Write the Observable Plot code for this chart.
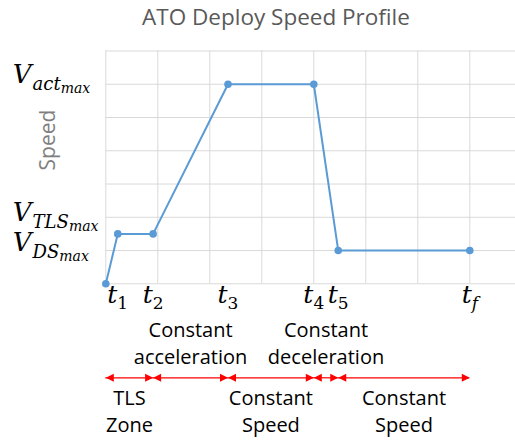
<!DOCTYPE html>
<html><head><meta charset="utf-8">
<script src="https://cdn.jsdelivr.net/npm/d3@7"></script>
<script src="https://cdn.jsdelivr.net/npm/@observablehq/plot@0.6"></script>
<style>
html,body{margin:0;padding:0;background:#fff;}
#wrap{position:relative;width:515px;height:440px;overflow:hidden;background:#fff;}
#wrap svg{position:absolute;left:0;top:0;}
#title{position:absolute;left:37px;right:0;top:1px;text-align:center;font-family:"Open Sans";font-size:22.5px;color:#595959;z-index:2;white-space:nowrap;}
#ytitle{position:absolute;left:47px;top:140px;transform:translate(-50%,-50%) rotate(-90deg);font-family:"Open Sans";font-size:21px;color:#7f7f7f;white-space:nowrap;z-index:2;}
</style></head><body>
<div id="wrap"><div id="title">ATO Deploy Speed Profile</div><div id="ytitle">Speed</div></div>
<script>
// data
const times  = [0, 0.23, 0.91, 2.35, 4.0, 4.47, 7.0];
const speeds = [0, 1.5, 1.5, 6, 6, 1, 1];
const xTickValues = [0.23, 0.91, 2.35, 4.0, 4.47, 7.0];
const xTickBase = ["t", "t", "t", "t", "t", "t"];
const xTickSub  = ["1", "2", "3", "4", "5", "f"];
const yTickValues = [6.04, 1.9, 1];
const yTickBase   = ["V", "V", "V"];
const yTickSub    = ["act", "TLS", "DS"];
const yTickSubSub = ["max", "max", "max"];
const phaseStart = [0, 0.91, 2.35, 4.0, 4.47];
const phaseEnd   = [0.91, 2.35, 4.0, 4.47, 7.0];
const phaseLabelsAbove = ["", "Constant\nacceleration", "", "Constant\ndeceleration", ""];
const phaseLabelsBelow = ["TLS\nZone", "", "Constant\nSpeed", "", "Constant\nSpeed"];
const gridXValues = [0, 1, 2, 3, 4, 5, 6, 7, 8];
const gridYValues = [0, 1, 2, 3, 4, 5, 6, 7];

const pts = times.map((t, i) => ({t, v: speeds[i]}));
const phases = phaseStart.map((s, i) => ({s, e: phaseEnd[i], mid: (s + phaseEnd[i]) / 2, above: phaseLabelsAbove[i], below: phaseLabelsBelow[i]}));
const xTicks = xTickValues.map((v, i) => ({v, label: xTickBase[i] + "|" + xTickSub[i]}));
const yTicks = yTickValues.map((v, i) => ({v, label: yTickBase[i] + "|" + yTickSub[i] + "|" + yTickSubSub[i]}));

const leftHead = {draw(ctx) { ctx.moveTo(0, 0); ctx.lineTo(8, -4); ctx.lineTo(8, 4); ctx.closePath(); }};
const rightHead = {draw(ctx) { ctx.moveTo(0, 0); ctx.lineTo(-8, -4); ctx.lineTo(-8, 4); ctx.closePath(); }};

const blue = "#5b9bd5", grid = "#d9d9d9", red = "#ff0000";
const arrowDy = 94;
const mathFont = "DejaVu Serif";

const svg = Plot.plot({
  width: 515, height: 440,
  marginLeft: 105.3, marginRight: 0, marginTop: 50.5, marginBottom: 156.7,
  style: {fontFamily: "Open Sans", fontSize: "20px", background: "transparent"},
  x: {domain: [0, 8], range: [105.3, 521.3], axis: null},
  y: {domain: [0, 7], axis: null},
  marks: [
    Plot.ruleX(gridXValues, {x: d => d, stroke: grid, strokeWidth: 1}),
    Plot.ruleY(gridYValues, {y: d => d, stroke: grid, strokeWidth: 1}),
    Plot.line(pts, {x: "t", y: "v", stroke: blue, strokeWidth: 2}),
    Plot.dot(pts, {x: "t", y: "v", r: 3.8, fill: blue}),
    // y tick labels
    Plot.text(yTicks, {y: "v", text: "label", frameAnchor: "left", textAnchor: "start", lineAnchor: "bottom", dx: -93, fontFamily: mathFont, fontStyle: "italic", fontSize: 26, fill: "#000"}),
    // x tick labels
    Plot.text(xTicks, {x: "v", y: () => 0, text: "label", textAnchor: "middle", lineAnchor: "bottom", dy: 19, fontFamily: mathFont, fontStyle: "italic", fontSize: 25, fill: "#000"}),
    // phase arrows
    Plot.ruleY(phases, {x1: "s", x2: "e", y: () => 0, dy: arrowDy, stroke: red, strokeWidth: 1.2}),
    Plot.dot(phases, {x: "s", y: () => 0, dy: arrowDy, symbol: leftHead, fill: red, stroke: "none"}),
    Plot.dot(phases, {x: "e", y: () => 0, dy: arrowDy, symbol: rightHead, fill: red, stroke: "none"}),
    // phase labels
    Plot.text(phases, {x: "mid", y: () => 0, text: "above", lineAnchor: "top", lineHeight: 1.35, dy: 34, fill: "#000", fontSize: 20}),
    Plot.text(phases, {x: "mid", y: () => 0, text: "below", lineAnchor: "top", lineHeight: 1.35, dy: 102, fill: "#000", fontSize: 20})
  ]
});

// turn "base|sub|subsub" into proper subscripts
d3.select(svg).selectAll("text").each(function() {
  const t = this.textContent;
  if (!t.includes("|")) return;
  const parts = t.split("|");
  const sel = d3.select(this);
  sel.text(null);
  sel.append("tspan").text(parts[0]);
  if (parts.length === 2) {
    const digit = /^[0-9]$/.test(parts[1]);
    sel.append("tspan").attr("font-size", 17).attr("dy", 6).attr("font-style", digit ? "normal" : "italic").text(parts[1]);
  } else {
    sel.append("tspan").attr("font-size", 18).attr("dy", 7).attr("dx", 1).text(parts[1]);
    sel.append("tspan").attr("font-size", 14).attr("dy", 3).text(parts[2]);
  }
});

document.getElementById("wrap").appendChild(svg);
</script>
</body></html>
